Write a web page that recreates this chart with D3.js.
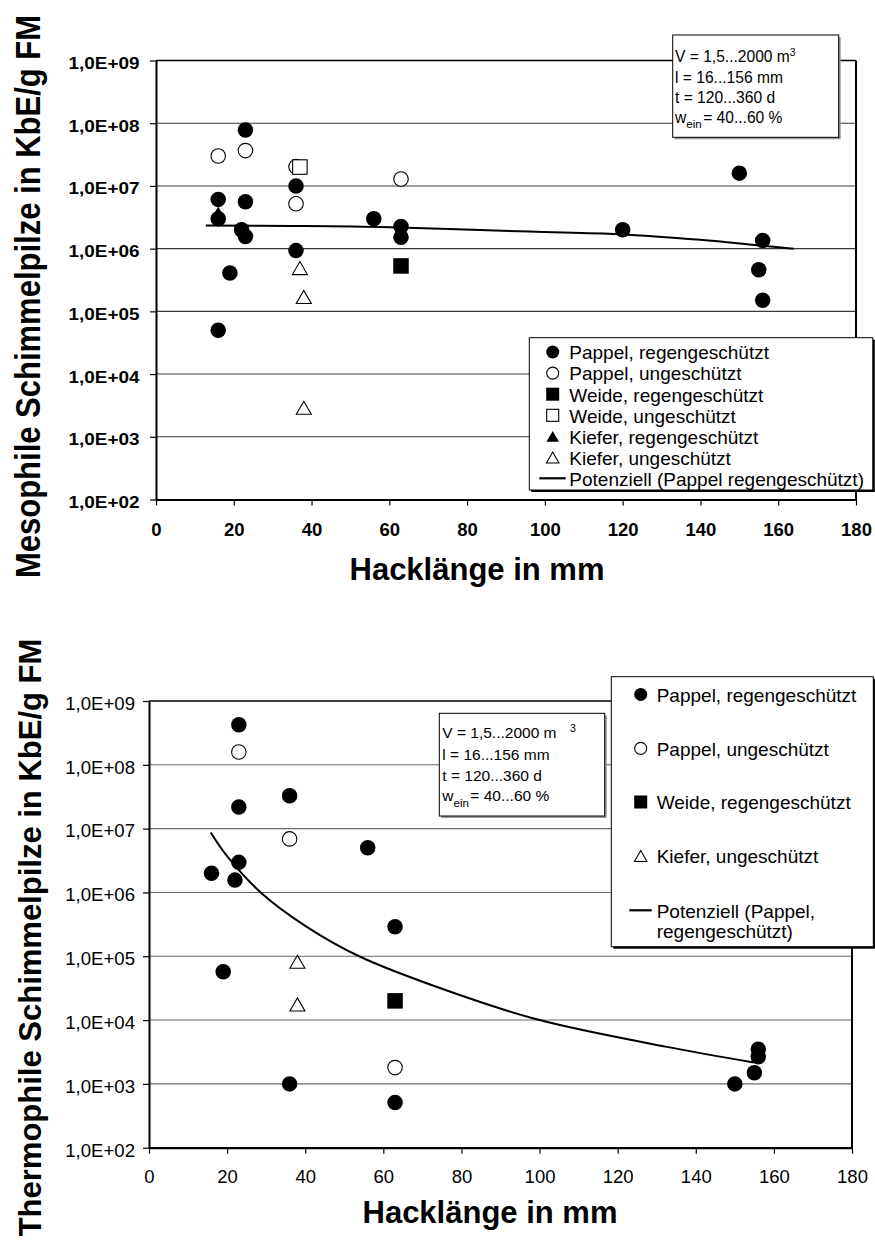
<!DOCTYPE html>
<html><head><meta charset="utf-8">
<script src="https://cdnjs.cloudflare.com/ajax/libs/d3/7.8.5/d3.min.js"></script>
<style>
body{margin:0;background:#fff}
svg{display:block}
text{font-family:Arial,"Liberation Sans",sans-serif;fill:#000}
</style>
</head><body>
<svg id="c" width="875" height="1241"></svg>
<script>
// ---------- shared axis data ----------
const xTicks = [0, 20, 40, 60, 80, 100, 120, 140, 160, 180];
const yTicks = [1e2, 1e3, 1e4, 1e5, 1e6, 1e7, 1e8, 1e9];
const yTickLabels = ["1,0E+02", "1,0E+03", "1,0E+04", "1,0E+05", "1,0E+06", "1,0E+07", "1,0E+08", "1,0E+09"];
const xTitle = "Hacklänge in mm";
const mesoTitle = "Mesophile Schimmelpilze in KbE/g FM";
const thermoTitle = "Thermophile Schimmelpilze in KbE/g FM";
const infoLines = ["V = 1,5...2000 m", "l = 16...156 mm", "t = 120...360 d", "= 40...60 %"];

// ---------- Mesophile (top) ----------
const mesoPappelReg = [[16, 6.1e6], [16, 3.0e6], [16, 5e4], [19, 4.1e5], [22, 2.0e6], [23, 7.8e7], [23, 5.6e6], [23, 1.56e6],
  [36, 1.0e7], [36, 9.3e5], [56, 3.0e6], [63, 2.25e6], [63, 1.52e6], [120, 2.0e6], [150, 1.6e7], [155, 4.6e5], [156, 1.35e6], [156, 1.5e5]];
const mesoPappelUng = [[16, 3.0e7], [23, 3.66e7], [36, 2.03e7], [36, 5.2e6], [63, 1.29e7]];
const mesoWeideReg = [[63, 5.3e5]];
const mesoWeideUng = [[37, 2.0e7]];
const mesoKieferReg = [[16, 3.7e6]];
const mesoKieferUng = [[37, 4.9e5], [38, 1.7e5], [38, 2.9e3]];
const mesoTrend = [[12.8, 2.33e6], [35, 2.3e6], [60, 2.2e6], [96, 1.87e6], [119, 1.7e6], [140, 1.38e6], [156, 1.11e6], [164, 1.0e6]];
const mesoLegend = ["Pappel, regengeschützt", "Pappel, ungeschützt", "Weide, regengeschützt", "Weide, ungeschützt",
  "Kiefer, regengeschützt", "Kiefer, ungeschützt", "Potenziell (Pappel regengeschützt)"];

// ---------- Thermophile (bottom) ----------
const thermoPappelReg = [[16, 2.0e6], [19, 5.7e4], [22, 1.56e6], [23, 4.25e8], [23, 2.18e7], [23, 2.96e6], [36, 3.28e7], [36, 1.0e3],
  [56, 5.0e6], [63, 2.9e5], [63, 5.1e2], [150, 1.0e3], [155, 1.5e3], [156, 2.66e3], [156, 3.5e3]];
const thermoPappelUng = [[23, 1.59e8], [36, 6.9e6], [63, 1.8e3]];
const thermoWeideReg = [[63, 2.0e4]];
const thermoKieferUng = [[38, 8.2e4], [38, 1.76e4]];
const thermoTrend = [[15.8, 8.7e6], [20, 3.7e6], [28.6, 1.0e6], [40, 3.0e5], [53.8, 1.0e5], [77, 2.8e4], [100, 1.0e4], [132.6, 3.8e3], [154.8, 2.17e3]];
const thermoLegend = ["Pappel, regengeschützt", "Pappel, ungeschützt", "Weide, regengeschützt", "Kiefer, ungeschützt", "Potenziell (Pappel,", "regengeschützt)"];

const svg = d3.select("#c");

function symbol(g, type, filled, cx, cy, s) {
  let el;
  if (type === "circle") {
    el = g.append("circle").attr("cx", cx).attr("cy", cy).attr("r", filled ? s / 2 : s / 2 - 0.5);
  } else if (type === "square") {
    const a = filled ? s : s - 1;
    el = g.append("rect").attr("x", cx - a / 2).attr("y", cy - a / 2).attr("width", a).attr("height", a);
  } else {
    const w = s, h = s * 0.87;
    el = g.append("path").attr("d", `M${cx},${cy - h / 2}L${cx + w / 2},${cy + h / 2}L${cx - w / 2},${cy + h / 2}Z`);
  }
  el.attr("fill", filled ? "#000" : "#fff").attr("stroke", "#000").attr("stroke-width", filled ? 0 : 1.1);
}

function chart(o) {
  const x = d3.scaleLinear().domain([0, 180]).range([o.left, o.right]);
  const y = d3.scaleLog().domain([1e2, 1e9]).range([o.bottom, o.top]);
  const g = svg.append("g");

  // gridlines
  g.append("g").selectAll("line").data(yTicks.slice(1)).join("line")
    .attr("x1", o.left).attr("x2", o.right)
    .attr("y1", d => y(d)).attr("y2", d => y(d))
    .attr("stroke", d => d === 1e9 ? "#000" : o.grid).attr("stroke-width", d => d === 1e9 ? 1.4 : 1.1);

  // right border
  g.append("line").attr("x1", o.right).attr("x2", o.right).attr("y1", o.top).attr("y2", o.bottom)
    .attr("stroke", "#000").attr("stroke-width", 2);

  // y axis
  const ay = g.append("g").attr("transform", `translate(${o.left},0)`)
    .call(d3.axisLeft(y).tickValues(yTicks).tickFormat((d, i) => yTickLabels[i]).tickSize(6).tickSizeOuter(0));
  ay.select(".domain").attr("stroke", "#000").attr("stroke-width", 2);
  ay.selectAll(".tick line").attr("stroke", "#000").attr("stroke-width", 1.2);
  ay.selectAll(".tick text")
    .attr("x", o.yLabRight - o.left).attr("dy", null).attr("y", o.yLabDy)
    .attr("font-size", o.yLabSize).attr("font-weight", o.tickWeight).attr("text-anchor", "end")
    .attr("font-family", "Arial, 'Liberation Sans', sans-serif");
  if (o.yLabLen) ay.selectAll(".tick text").attr("textLength", o.yLabLen).attr("lengthAdjust", "spacingAndGlyphs");

  // x axis
  const ax = g.append("g").attr("transform", `translate(0,${o.bottom})`)
    .call(d3.axisBottom(x).tickValues(xTicks).tickFormat(d3.format("d")).tickSize(6).tickSizeOuter(0));
  ax.select(".domain").attr("stroke", "#000").attr("stroke-width", 2.2);
  ax.selectAll(".tick line").attr("stroke", "#000").attr("stroke-width", 1.2);
  ax.selectAll(".tick text")
    .attr("y", o.xLabBase - o.bottom).attr("dy", null)
    .attr("font-size", o.xLabSize).attr("font-weight", o.tickWeight)
    .attr("font-family", "Arial, 'Liberation Sans', sans-serif");

  // titles
  g.append("text").attr("x", o.xTitleX).attr("y", o.xTitleY).attr("text-anchor", "middle")
    .attr("font-size", 31).attr("font-weight", "bold").text(xTitle);
  g.append("text").attr("transform", `translate(${o.yTitleX},${o.yTitleY}) rotate(-90) scale(1,${o.yTitleStretch})`)
    .attr("text-anchor", "middle").attr("font-size", 31).attr("font-weight", "bold").text(o.yTitle);

  // info box
  const ib = o.info;
  g.append("rect").attr("x", ib.x + 2).attr("y", ib.y + 2).attr("width", ib.w).attr("height", ib.h).attr("fill", "#999");
  g.append("rect").attr("x", ib.x).attr("y", ib.y).attr("width", ib.w).attr("height", ib.h)
    .attr("fill", "#fff").attr("stroke", "#000").attr("stroke-width", 1);
  const fs = ib.fs;
  const t0 = g.append("text").attr("x", ib.tx).attr("y", ib.base[0]).attr("font-size", fs).text(infoLines[0]);
  if (ib.supX == null) {
    t0.append("tspan").attr("dy", -5.7).attr("font-size", 10.5).text("3");
  } else {
    g.append("text").attr("x", ib.supX).attr("y", ib.base[0] - 6).attr("font-size", 10.5).text("3");
  }
  g.append("text").attr("x", ib.tx).attr("y", ib.base[1]).attr("font-size", fs).text(infoLines[1]);
  g.append("text").attr("x", ib.tx).attr("y", ib.base[2]).attr("font-size", fs).text(infoLines[2]);
  const t3 = g.append("text").attr("x", ib.tx).attr("y", ib.base[3]).attr("font-size", fs).text("w");
  t3.append("tspan").attr("dy", ib.subDy).attr("font-size", 11.5).text("ein");
  t3.append("tspan").attr("dy", -ib.subDy).attr("dx", 1.5).text(infoLines[3]);

  // points
  const pg = g.append("g");
  o.series.forEach(s => s.data.forEach(d => symbol(pg, s.type, s.filled, x(d[0]), y(d[1]), s.type === "triangle" ? 15 : 15.5)));

  // trend line
  g.append("path").datum(o.trend)
    .attr("d", d3.line().x(d => x(d[0])).y(d => y(d[1])).curve(d3.curveCatmullRom))
    .attr("fill", "none").attr("stroke", "#000").attr("stroke-width", 2);

  // legend
  const L = o.legend;
  g.append("rect").attr("x", L.x + 2).attr("y", L.y + 2).attr("width", L.w).attr("height", L.h).attr("fill", "#000");
  g.append("rect").attr("x", L.x).attr("y", L.y).attr("width", L.w).attr("height", L.h)
    .attr("fill", "#fff").attr("stroke", "#000").attr("stroke-width", 1);
  o.series.forEach((s, i) => {
    symbol(g, s.type, s.filled, L.sx, L.base[i] - 7.3, s.type === "triangle" ? 12.5 : 13);
    g.append("text").attr("x", L.tx).attr("y", L.base[i]).attr("font-size", 19).text(L.labels[i]);
  });
  const n = o.series.length;
  g.append("line").attr("x1", L.lx0).attr("x2", L.lx1).attr("y1", L.base[n] - 7.4).attr("y2", L.base[n] - 7.4)
    .attr("stroke", "#000").attr("stroke-width", 2.2);
  for (let k = n; k < L.labels.length; k++) {
    g.append("text").attr("x", L.tx).attr("y", L.base[k]).attr("font-size", 19).text(L.labels[k]);
  }
}

chart({
  left: 156, right: 856, top: 60.5, bottom: 499.5, grid: "#3a3a3a",
  tickWeight: "bold", yLabRight: 139.5, yLabDy: 8, yLabSize: 16.5, yLabLen: 71,
  xLabBase: 536, xLabSize: 18.5,
  xTitleX: 477, xTitleY: 580, yTitleX: 40, yTitleY: 296.5, yTitleStretch: 1.12, yTitle: mesoTitle,
  info: { x: 672.7, y: 35, w: 166, h: 102.3, tx: 675, fs: 15.6, base: [61.7, 82.7, 103.3, 123.3], supX: null, subDy: 5 },
  series: [
    { data: mesoPappelReg, type: "circle", filled: true },
    { data: mesoPappelUng, type: "circle", filled: false },
    { data: mesoWeideReg, type: "square", filled: true },
    { data: mesoWeideUng, type: "square", filled: false },
    { data: mesoKieferReg, type: "triangle", filled: true },
    { data: mesoKieferUng, type: "triangle", filled: false }
  ],
  trend: mesoTrend,
  legend: { x: 529.3, y: 337.7, w: 343.5, h: 152.3, sx: 552.7, tx: 569.3, lx0: 539.3, lx1: 565.7,
    base: [359.3, 380.4, 401.5, 422.6, 443.7, 464.8, 485.7], labels: mesoLegend }
});

chart({
  left: 149, right: 852, top: 701, bottom: 1147.7, grid: "#6a6a6a",
  tickWeight: "normal", yLabRight: 135, yLabDy: 8.3, yLabSize: 18.6, yLabLen: null,
  xLabBase: 1183.3, xLabSize: 18.5,
  xTitleX: 490, xTitleY: 1222.7, yTitleX: 41, yTitleY: 937.5, yTitleStretch: 1, yTitle: thermoTitle,
  info: { x: 439.3, y: 713.3, w: 165.4, h: 102.7, tx: 442.3, fs: 15.5, base: [738.3, 760, 780.7, 800.5], supX: 570, subDy: 6 },
  series: [
    { data: thermoPappelReg, type: "circle", filled: true },
    { data: thermoPappelUng, type: "circle", filled: false },
    { data: thermoWeideReg, type: "square", filled: true },
    { data: thermoKieferUng, type: "triangle", filled: false }
  ],
  trend: thermoTrend,
  legend: { x: 611.3, y: 676.7, w: 262, h: 270, sx: 640.7, tx: 656.7, lx0: 629.3, lx1: 651.7,
    base: [701.7, 755.7, 809.3, 863.3, 917.7, 938.3], labels: thermoLegend }
});
</script>
</body></html>
